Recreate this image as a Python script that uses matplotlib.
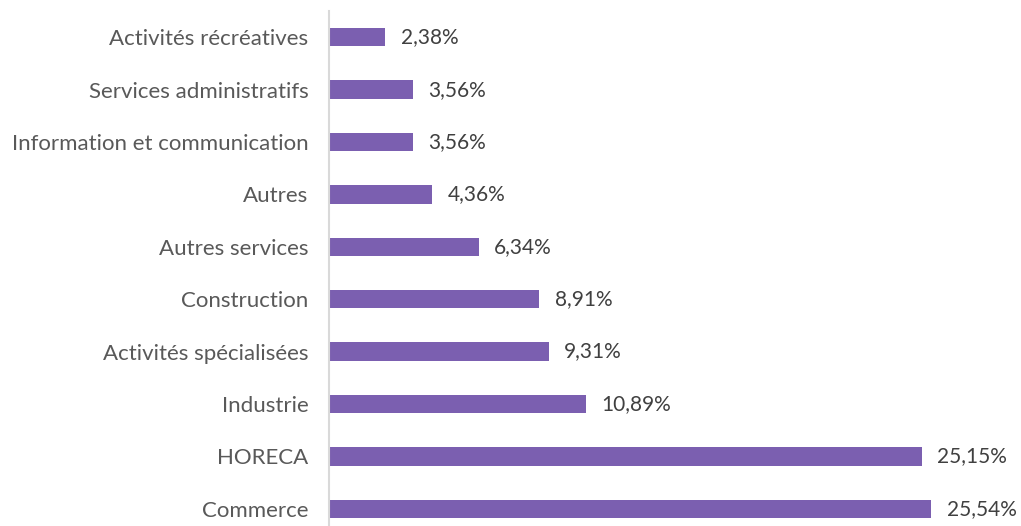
import matplotlib
matplotlib.use("Agg")
import matplotlib.pyplot as plt

# categories listed bottom -> top
categories = [
    "Commerce", "HORECA", "Industrie", "Activités spécialisées",
    "Construction", "Autres services", "Autres",
    "Information et communication", "Services administratifs",
    "Activités récréatives",
]
shares = [25.54, 25.15, 10.89, 9.31, 8.91, 6.34, 4.36, 3.56, 3.56, 2.38]

BAR = "#7B5FB0"
plt.rcParams["font.family"] = ["Lato", "DejaVu Sans"]

fig = plt.figure(figsize=(10.21, 5.26), dpi=100)
ax = fig.add_axes([0.3225, -0.017, 0.6465, 0.996])

pos = range(len(categories))
ax.barh(pos, shares, height=0.35, color=BAR, zorder=2)
ax.set_ylim(-0.5, len(categories) - 0.5)
ax.set_xlim(0, 28)

for y, v in zip(pos, shares):
    ax.annotate(f"{v:.2f}%".replace(".", ","), (v, y), xytext=(11, 0),
                textcoords="offset points", va="center", ha="left",
                fontsize=15, color="#404040")

ax.set_yticks(list(pos))
ax.set_yticklabels(categories, fontsize=16, color="#595959")
ax.tick_params(axis="y", length=0, pad=15)
ax.set_xticks([])
for side in ["top", "right", "bottom"]:
    ax.spines[side].set_visible(False)
ax.spines["left"].set_color("#D9D9D9")
ax.spines["left"].set_linewidth(1.5)

fig.savefig("out.png", dpi=100)
